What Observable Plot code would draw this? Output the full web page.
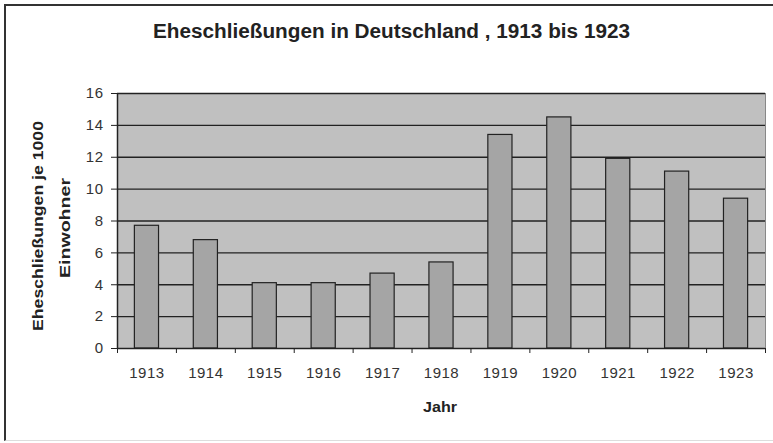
<!DOCTYPE html>
<html>
<head>
<meta charset="utf-8">
<script src="https://cdn.jsdelivr.net/npm/d3@7"></script>
<script src="https://cdn.jsdelivr.net/npm/@observablehq/plot@0.6"></script>
<style>
  html, body { margin: 0; padding: 0; background: #fff; }
  #wrap { position: relative; width: 773px; height: 443px; overflow: hidden; font-family: "Liberation Sans", Arial, sans-serif; }
  #border { position: absolute; left: 4px; top: 4px; width: 820px; height: 437px; box-sizing: border-box;
            border-top: 2px solid #333; border-left: 2px solid #333; border-bottom: 1px solid #ddd; pointer-events: none; }
  #chart svg { position: absolute; left: 0; top: 0; }
</style>
</head>
<body>
<div id="wrap"><div id="chart"></div><div id="border"></div></div>
<script>
const titleText = "Eheschließungen in Deutschland , 1913 bis 1923";
const yLabelLine1 = "Eheschließungen je 1000";
const yLabelLine2 = "Einwohner";
const xLabelText = "Jahr";
const years = [1913, 1914, 1915, 1916, 1917, 1918, 1919, 1920, 1921, 1922, 1923];
const values = [7.7, 6.8, 4.1, 4.1, 4.7, 5.4, 13.4, 14.5, 11.9, 11.1, 9.4];
const yTicks = [0, 2, 4, 6, 8, 10, 12, 14, 16];

const data = years.map((year, i) => ({year, value: values[i]}));
const halfBar = 0.205;

const svg = Plot.plot({
  width: 773,
  height: 443,
  marginLeft: 117,
  marginRight: 8,
  marginTop: 93,
  marginBottom: 95,
  style: {background: "transparent", fontFamily: "'Liberation Sans', Arial, sans-serif", color: "#333"},
  x: {domain: [years[0] - 0.5, years[years.length - 1] + 0.5]},
  y: {domain: [0, 16]},
  marks: [
    Plot.frame({fill: "#c0c0c0", stroke: "#888"}),
    Plot.gridY(yTicks.filter(d => d > 0), {stroke: "#222", strokeOpacity: 1, strokeWidth: 1.3}),
    Plot.rect(data, {x1: d => d.year - halfBar, x2: d => d.year + halfBar, y1: 0, y2: "value", fill: "#a5a5a5", stroke: "#222", strokeWidth: 1.2}),
    Plot.ruleY([0], {stroke: "#222", strokeWidth: 1.5}),
    Plot.ruleX([years[0] - 0.5], {stroke: "#222", strokeWidth: 1.5}),
    Plot.axisY({ticks: yTicks, tickSize: 6, tickPadding: 8, label: null, tickFormat: d => String(d), stroke: "#222", fill: "#333"}),
    Plot.axisX({ticks: d3.range(years[0] - 0.5, years[years.length - 1] + 1, 1), tickSize: 5, tickFormat: () => "", label: null, stroke: "#222"}),
    Plot.axisX({ticks: years, tickSize: 0, tickPadding: 19, tickFormat: d => String(d), label: null, fill: "#333"})
  ]
});

const s = d3.select(svg);
// enlarge the library's tick labels
s.selectAll("text").style("font-size", "15px").style("letter-spacing", "0.5px");

s.append("text")
  .attr("x", 391.5).attr("y", 38)
  .attr("text-anchor", "middle")
  .attr("font-weight", "bold").attr("font-size", 20).attr("fill", "#222")
  .attr("textLength", 477).attr("lengthAdjust", "spacingAndGlyphs")
  .text(titleText);
s.append("text")
  .attr("transform", "translate(42.5,226) rotate(-90)")
  .attr("text-anchor", "middle")
  .attr("font-weight", "bold").attr("font-size", 14).attr("fill", "#222")
  .attr("textLength", 210).attr("lengthAdjust", "spacingAndGlyphs")
  .text(yLabelLine1);
s.append("text")
  .attr("transform", "translate(69.5,228) rotate(-90)")
  .attr("text-anchor", "middle")
  .attr("font-weight", "bold").attr("font-size", 14).attr("fill", "#222")
  .attr("textLength", 100).attr("lengthAdjust", "spacingAndGlyphs")
  .text(yLabelLine2);
s.append("text")
  .attr("x", 440).attr("y", 412)
  .attr("text-anchor", "middle")
  .attr("font-weight", "bold").attr("font-size", 14).attr("fill", "#222")
  .attr("textLength", 34).attr("lengthAdjust", "spacingAndGlyphs")
  .text(xLabelText);

document.getElementById("chart").appendChild(svg);
</script>
</body>
</html>
